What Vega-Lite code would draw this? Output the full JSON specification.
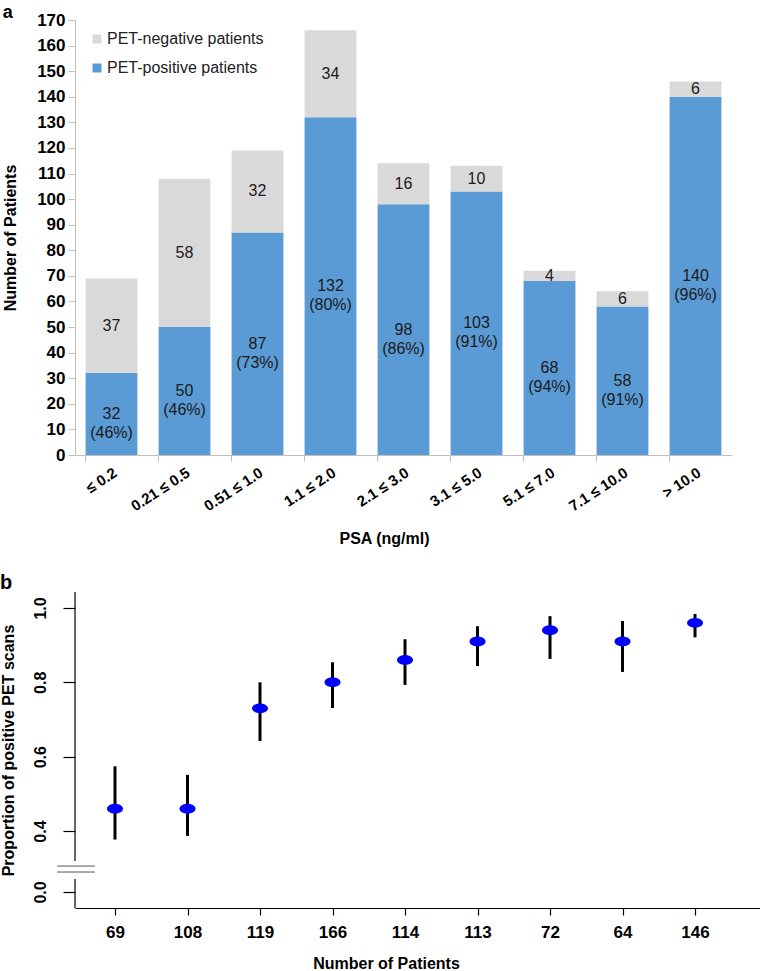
{
  "$schema": "https://vega.github.io/schema/vega-lite/v6.json",
  "description": "PET positivity by PSA level",
  "padding": {"left": 0, "top": 4, "right": 0, "bottom": 0},
  "config": {
    "font": "Liberation Sans",
    "view": {"stroke": null},
    "axis": {"grid": false}
  },
  "spacing": 26,
  "vconcat": [
    {
      "width": 657,
      "height": 435,
      "title": {"text": "a", "anchor": "start", "frame": "bounds", "fontSize": 18, "fontWeight": "bold", "baseline": "alphabetic", "offset": -1, "dy": 24},
      "data": {
        "values": [
          {"psa": "≤ 0.2", "status": "PET-positive patients", "count": 32, "pct": 46},
          {"psa": "≤ 0.2", "status": "PET-negative patients", "count": 37},
          {"psa": "0.21 ≤ 0.5", "status": "PET-positive patients", "count": 50, "pct": 46},
          {"psa": "0.21 ≤ 0.5", "status": "PET-negative patients", "count": 58},
          {"psa": "0.51 ≤ 1.0", "status": "PET-positive patients", "count": 87, "pct": 73},
          {"psa": "0.51 ≤ 1.0", "status": "PET-negative patients", "count": 32},
          {"psa": "1.1 ≤ 2.0", "status": "PET-positive patients", "count": 132, "pct": 80},
          {"psa": "1.1 ≤ 2.0", "status": "PET-negative patients", "count": 34},
          {"psa": "2.1 ≤ 3.0", "status": "PET-positive patients", "count": 98, "pct": 86},
          {"psa": "2.1 ≤ 3.0", "status": "PET-negative patients", "count": 16},
          {"psa": "3.1 ≤ 5.0", "status": "PET-positive patients", "count": 103, "pct": 91},
          {"psa": "3.1 ≤ 5.0", "status": "PET-negative patients", "count": 10},
          {"psa": "5.1 ≤ 7.0", "status": "PET-positive patients", "count": 68, "pct": 94},
          {"psa": "5.1 ≤ 7.0", "status": "PET-negative patients", "count": 4},
          {"psa": "7.1 ≤ 10.0", "status": "PET-positive patients", "count": 58, "pct": 91},
          {"psa": "7.1 ≤ 10.0", "status": "PET-negative patients", "count": 6},
          {"psa": "> 10.0", "status": "PET-positive patients", "count": 140, "pct": 96},
          {"psa": "> 10.0", "status": "PET-negative patients", "count": 6}
        ]
      },
      "transform": [
        {"stack": "count", "groupby": ["psa"], "sort": [{"field": "status", "order": "descending"}], "as": ["y0", "y1"]},
        {"calculate": "(datum.y0 + datum.y1) / 2", "as": "ymid"},
        {"calculate": "datum.pct ? datum.count + '\\n(' + datum.pct + '%)' : '' + datum.count", "as": "label"}
      ],
      "layer": [
        {
          "mark": {"type": "bar"},
          "encoding": {
            "x": {
              "field": "psa",
              "type": "nominal",
              "sort": null,
              "scale": {"paddingInner": 0.29, "paddingOuter": 0.145},
              "axis": {
                "orient": "bottom",
                "title": "PSA (ng/ml)",
                "titleFontSize": 16,
                "titleFontWeight": "bold",
                "titleColor": "black",
                "titlePadding": 17,
                "titleX": 309,
                "labelAngle": -33,
                "labelFontSize": 15,
                "labelFontWeight": "bold",
                "labelColor": "black",
                "labelPadding": 10,
                "ticks": false,
                "domainColor": "#bfbfbf"
              }
            },
            "y": {
              "field": "y1",
              "type": "quantitative",
              "scale": {"domain": [0, 170], "nice": false},
              "axis": {
                "title": "Number of Patients",
                "titleFontSize": 16,
                "titleFontWeight": "bold",
                "titleColor": "black",
                "titlePadding": 18,
                "values": [0, 10, 20, 30, 40, 50, 60, 70, 80, 90, 100, 110, 120, 130, 140, 150, 160, 170],
                "labelOverlap": false,
                "labelFontSize": 17,
                "labelFontWeight": "bold",
                "labelColor": "black",
                "labelPadding": 3,
                "tickSize": 7,
                "tickColor": "#bfbfbf",
                "domainColor": "#bfbfbf"
              }
            },
            "y2": {"field": "y0"},
            "color": {
              "field": "status",
              "type": "nominal",
              "scale": {"domain": ["PET-negative patients", "PET-positive patients"], "range": ["#d9d9d9", "#5b9bd5"]},
              "legend": {
                "orient": "none",
                "legendX": 14,
                "legendY": 11,
                "title": null,
                "symbolType": "square",
                "symbolSize": 81,
                "symbolStrokeWidth": 0,
                "labelFontSize": 16,
                "labelColor": "#222222",
                "labelOffset": 2,
                "rowPadding": 13
              }
            }
          }
        },
        {
          "mark": {"type": "text", "fontSize": 16, "lineHeight": 19, "lineBreak": "\n", "color": "#1a1a1a", "baseline": "middle"},
          "encoding": {
            "x": {
              "field": "psa",
              "type": "nominal",
              "sort": null,
              "axis": {
                "orient": "bottom",
                "title": null,
                "labels": false,
                "domain": false,
                "bandPosition": 0,
                "tickSize": 6,
                "tickColor": "#bfbfbf"
              }
            },
            "y": {
              "field": "ymid",
              "type": "quantitative",
              "axis": {
                "title": "Number of Patients",
                "titleFontSize": 16,
                "titleFontWeight": "bold",
                "titleColor": "black",
                "titlePadding": 18,
                "values": [0, 10, 20, 30, 40, 50, 60, 70, 80, 90, 100, 110, 120, 130, 140, 150, 160, 170],
                "labelOverlap": false,
                "labelFontSize": 17,
                "labelFontWeight": "bold",
                "labelColor": "black",
                "labelPadding": 3,
                "tickSize": 7,
                "tickColor": "#bfbfbf",
                "domainColor": "#bfbfbf"
              }
            },
            "text": {"field": "label"}
          }
        }
      ],
      "resolve": {"axis": {"x": "independent"}}
    },
    {
      "width": 685,
      "height": 316,
      "title": {"text": "b", "anchor": "start", "frame": "bounds", "fontSize": 20, "fontWeight": "bold", "baseline": "alphabetic", "offset": 3, "dy": 21},
      "layer": [
        {
          "data": {
            "values": [
              {"n": 69, "p": 0.46, "lo": 0.344, "hi": 0.574},
              {"n": 108, "p": 0.46, "lo": 0.368, "hi": 0.551},
              {"n": 119, "p": 0.73, "lo": 0.642, "hi": 0.8},
              {"n": 166, "p": 0.8, "lo": 0.731, "hi": 0.854},
              {"n": 114, "p": 0.86, "lo": 0.793, "hi": 0.916},
              {"n": 113, "p": 0.91, "lo": 0.844, "hi": 0.951},
              {"n": 72, "p": 0.94, "lo": 0.863, "hi": 0.978},
              {"n": 64, "p": 0.91, "lo": 0.828, "hi": 0.965},
              {"n": 146, "p": 0.96, "lo": 0.921, "hi": 0.984}
            ]
          },
          "encoding": {
            "x": {
              "field": "n",
              "type": "ordinal",
              "sort": null,
              "scale": {"type": "point", "padding": 0.724, "align": 0.381},
              "axis": {
                "title": "Number of Patients",
                "titleFontSize": 16,
                "titleFontWeight": "bold",
                "titleColor": "black",
                "titlePadding": 15,
                "titleX": 311,
                "labelAngle": 0,
                "labelFontSize": 17,
                "labelFontWeight": "bold",
                "labelColor": "black",
                "labelPadding": 9,
                "tickSize": 7,
                "tickColor": "black",
                "tickWidth": 1.2,
                "domainColor": "black",
                "domainWidth": 1.2
              }
            }
          },
          "layer": [
            {
              "mark": {"type": "rule", "strokeWidth": 3, "color": "black"},
              "encoding": {
                "y": {
                  "field": "lo",
                  "type": "quantitative",
                  "scale": {"domain": [-0.105, 0.4, 1.043], "range": [316, 239, 0], "zero": false, "nice": false},
                  "axis": {
                    "title": "Proportion of positive PET scans",
                    "titleFontSize": 16,
                    "titleFontWeight": "bold",
                    "titleColor": "black",
                    "titlePadding": 16,
                    "values": [0, 0.4, 0.6, 0.8, 1.0],
                    "format": ".1f",
                    "domain": false,
                    "tickSize": 12,
                    "tickColor": "black",
                    "tickWidth": 1.2,
                    "labelAngle": -90,
                    "labelAlign": "center",
                    "labelBaseline": "bottom",
                    "labelPadding": 15,
                    "labelFontSize": 16,
                    "labelFontWeight": "bold",
                    "labelColor": "black"
                  }
                },
                "y2": {"field": "hi"}
              }
            },
            {
              "mark": {"type": "point", "filled": true, "opacity": 1, "color": "#0000ff", "size": 256, "shape": "M -1 0 A 1 0.62 0 1 1 1 0 A 1 0.62 0 1 1 -1 0 Z"},
              "encoding": {
                "y": {"field": "p", "type": "quantitative"}
              }
            }
          ]
        },
        {
          "data": {"values": [{}]},
          "layer": [
            {
              "mark": {"type": "rule", "color": "black", "strokeWidth": 1.2},
              "encoding": {
                "x": {"datum": 0, "type": "quantitative", "scale": {"domain": [0, 1]}, "axis": null},
                "y": {"datum": 1.043, "type": "quantitative"},
                "y2": {"datum": 0.203}
              }
            },
            {
              "mark": {"type": "rule", "color": "black", "strokeWidth": 1.2},
              "encoding": {
                "x": {"datum": 0, "type": "quantitative", "scale": {"domain": [0, 1]}, "axis": null},
                "y": {"datum": 0.085, "type": "quantitative"},
                "y2": {"datum": -0.105}
              }
            },
            {
              "mark": {"type": "rule", "color": "#555555", "strokeWidth": 1},
              "encoding": {
                "x": {"datum": -0.026, "type": "quantitative", "scale": {"domain": [0, 1]}, "axis": null},
                "x2": {"datum": 0.029},
                "y": {"datum": 0.17, "type": "quantitative"}
              }
            },
            {
              "mark": {"type": "rule", "color": "#555555", "strokeWidth": 1},
              "encoding": {
                "x": {"datum": -0.026, "type": "quantitative", "scale": {"domain": [0, 1]}, "axis": null},
                "x2": {"datum": 0.029},
                "y": {"datum": 0.131, "type": "quantitative"}
              }
            }
          ]
        }
      ],
      "resolve": {"scale": {"x": "independent"}}
    }
  ]
}
